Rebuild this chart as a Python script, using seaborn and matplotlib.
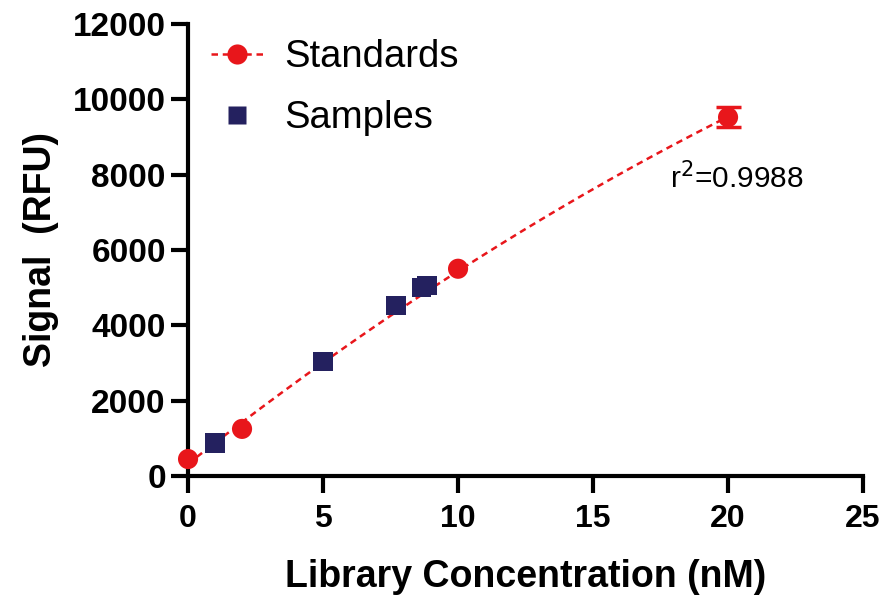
import matplotlib
matplotlib.use('Agg')
import matplotlib.pyplot as plt
from matplotlib.lines import Line2D
import seaborn as sns
import numpy as np
import pandas as pd

sns.set_style('white')
plt.rcParams['font.family'] = ['Liberation Sans', 'DejaVu Sans']
plt.rcParams['text.color'] = 'black'
plt.rcParams['axes.labelcolor'] = 'black'
plt.rcParams['xtick.color'] = 'black'
plt.rcParams['ytick.color'] = 'black'

# values
std_conc = [0, 2, 10, 20]
std_signal = [450, 1250, 5500, 9520]
err_conc = [20]
err_signal = [9520]
err_size = [270]
sample_conc = [1.0, 5.0, 7.7, 8.65, 8.85]
sample_signal = [870, 3040, 4520, 5000, 5060]

red = '#E8161B'
navy = '#24215F'
dash = (0, (2.6, 1.9))

df_std = pd.DataFrame({'conc': std_conc, 'signal': std_signal})
df_smp = pd.DataFrame({'conc': sample_conc, 'signal': sample_signal})

# quadratic standard curve through the standards
coef = np.polyfit(std_conc, std_signal, 2)
fit_x = np.linspace(min(std_conc), max(std_conc), 200)
df_fit = pd.DataFrame({'conc': fit_x, 'signal': np.polyval(coef, fit_x)})

fig = plt.figure(figsize=(8.87, 5.95), dpi=100)
ax = fig.add_axes([0.212, 0.2, 0.761, 0.76])

sns.lineplot(data=df_fit, x='conc', y='signal', ax=ax, color=red,
             linestyle=dash, linewidth=1.8, legend=False)
ax.errorbar(err_conc, err_signal, yerr=err_size, fmt='none', ecolor=red,
            elinewidth=2.5, capsize=9, capthick=2.5, clip_on=False)
sns.scatterplot(data=df_std, x='conc', y='signal', ax=ax, color=red,
                marker='o', s=210, edgecolor='none', clip_on=False, zorder=5)
sns.scatterplot(data=df_smp, x='conc', y='signal', ax=ax, color=navy,
                marker='s', s=200, edgecolor='none', clip_on=False, zorder=6)

ax.set_xlim(0, 25)
ax.set_ylim(0, 12000)
ax.set_xticks([0, 5, 10, 15, 20, 25])
ax.set_yticks(range(0, 12001, 2000))

for s in ['top', 'right']:
    ax.spines[s].set_visible(False)
for s in ['left', 'bottom']:
    ax.spines[s].set_linewidth(3)
    ax.spines[s].set_color('black')

ax.tick_params(axis='both', which='both', direction='out', width=3,
               length=12, color='black', bottom=True, left=True)
ax.tick_params(axis='y', pad=4)
ax.tick_params(axis='x', pad=8)

for lab in ax.get_yticklabels():
    lab.set_fontsize(24)
    lab.set_fontweight('bold')
for lab in ax.get_xticklabels():
    lab.set_fontsize(23)
    lab.set_fontweight('bold')

ax.set_xlabel('Library Concentration (nM)', fontsize=27, fontweight='bold',
              labelpad=18)
ax.set_ylabel('Signal  (RFU)', fontsize=27, fontweight='bold', labelpad=10)

ax.text(17.85, 7900, r'r$^2$=0.9988', fontsize=21.5, ha='left', va='center')

handles = [
    Line2D([0], [0], color=red, linestyle=dash, linewidth=1.8,
           marker='o', markersize=14.5, markeredgecolor='none'),
    Line2D([0], [0], color=navy, linestyle='none', marker='s', markersize=13,
           markeredgecolor='none'),
]
ax.legend(handles, ['Standards', 'Samples'], loc='upper left', frameon=False,
          fontsize=27.5, handlelength=1.35, labelspacing=0.65, handletextpad=0.55,
          borderaxespad=0.0, bbox_to_anchor=(0.012, 1.0))

fig.savefig('out.png', dpi=100)
